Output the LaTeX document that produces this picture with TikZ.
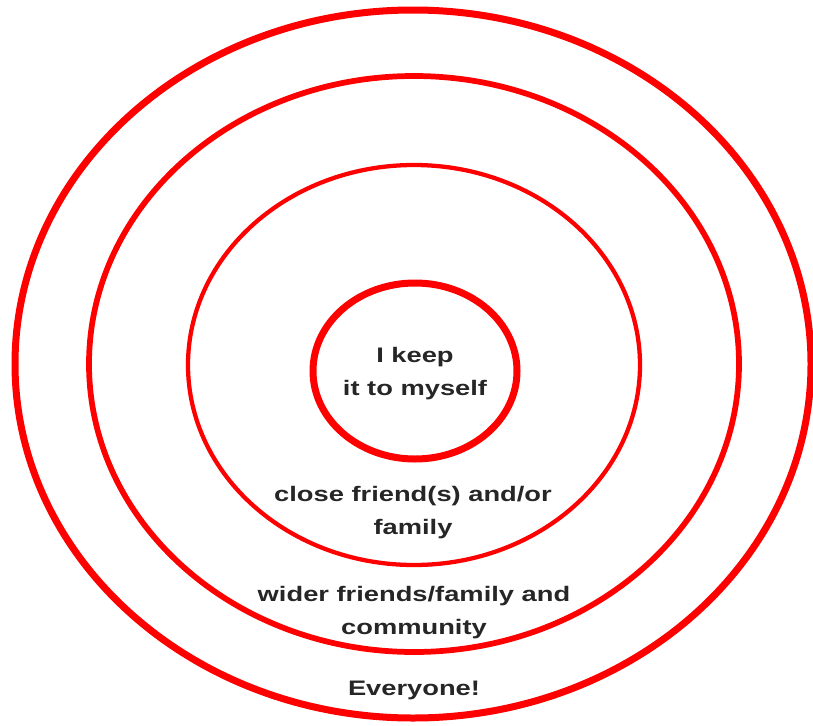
\documentclass[tikz,border=0pt]{standalone}
\usepackage{fontspec}
\setmainfont{Liberation Sans}
\usepackage{xcolor}
\usepackage{tikz}
\usetikzlibrary{positioning}

\definecolor{ringred}{HTML}{FF0000}
\definecolor{labelgray}{HTML}{262626}

\begin{document}
\begin{tikzpicture}[x=0.75pt, y=-0.75pt,
  ring/.style ={draw=ringred, fill=none},
  label/.style={align=center, text=labelgray, inner sep=0pt,
                xscale=1.3, transform shape,
                font=\bfseries\fontsize{15.75}{24.75}\selectfont},
]
\useasboundingbox (0,0) rectangle (813,725);

% === Rings ===
\draw[ring, line width=5.25pt] (413,364) ellipse [x radius=398, y radius=354];
\draw[ring, line width=4.3pt]  (414,364) ellipse [x radius=325, y radius=288];
\draw[ring, line width=3.2pt]  (414,365) ellipse [x radius=226, y radius=200];
\draw[ring, line width=5.25pt] (415,371) ellipse [x radius=102, y radius=88];

% === Labels ===
\node[label] (self)     at (415,374) {I keep\\it to myself};
\node[label] (close)    at (413,513) {close friend(s) and/or\\family};
\node[label] (wider)    at (414,612.5) {wider friends/family and\\community};
\node[label] (everyone) at (414,690) {Everyone!};

\end{tikzpicture}
\end{document}
